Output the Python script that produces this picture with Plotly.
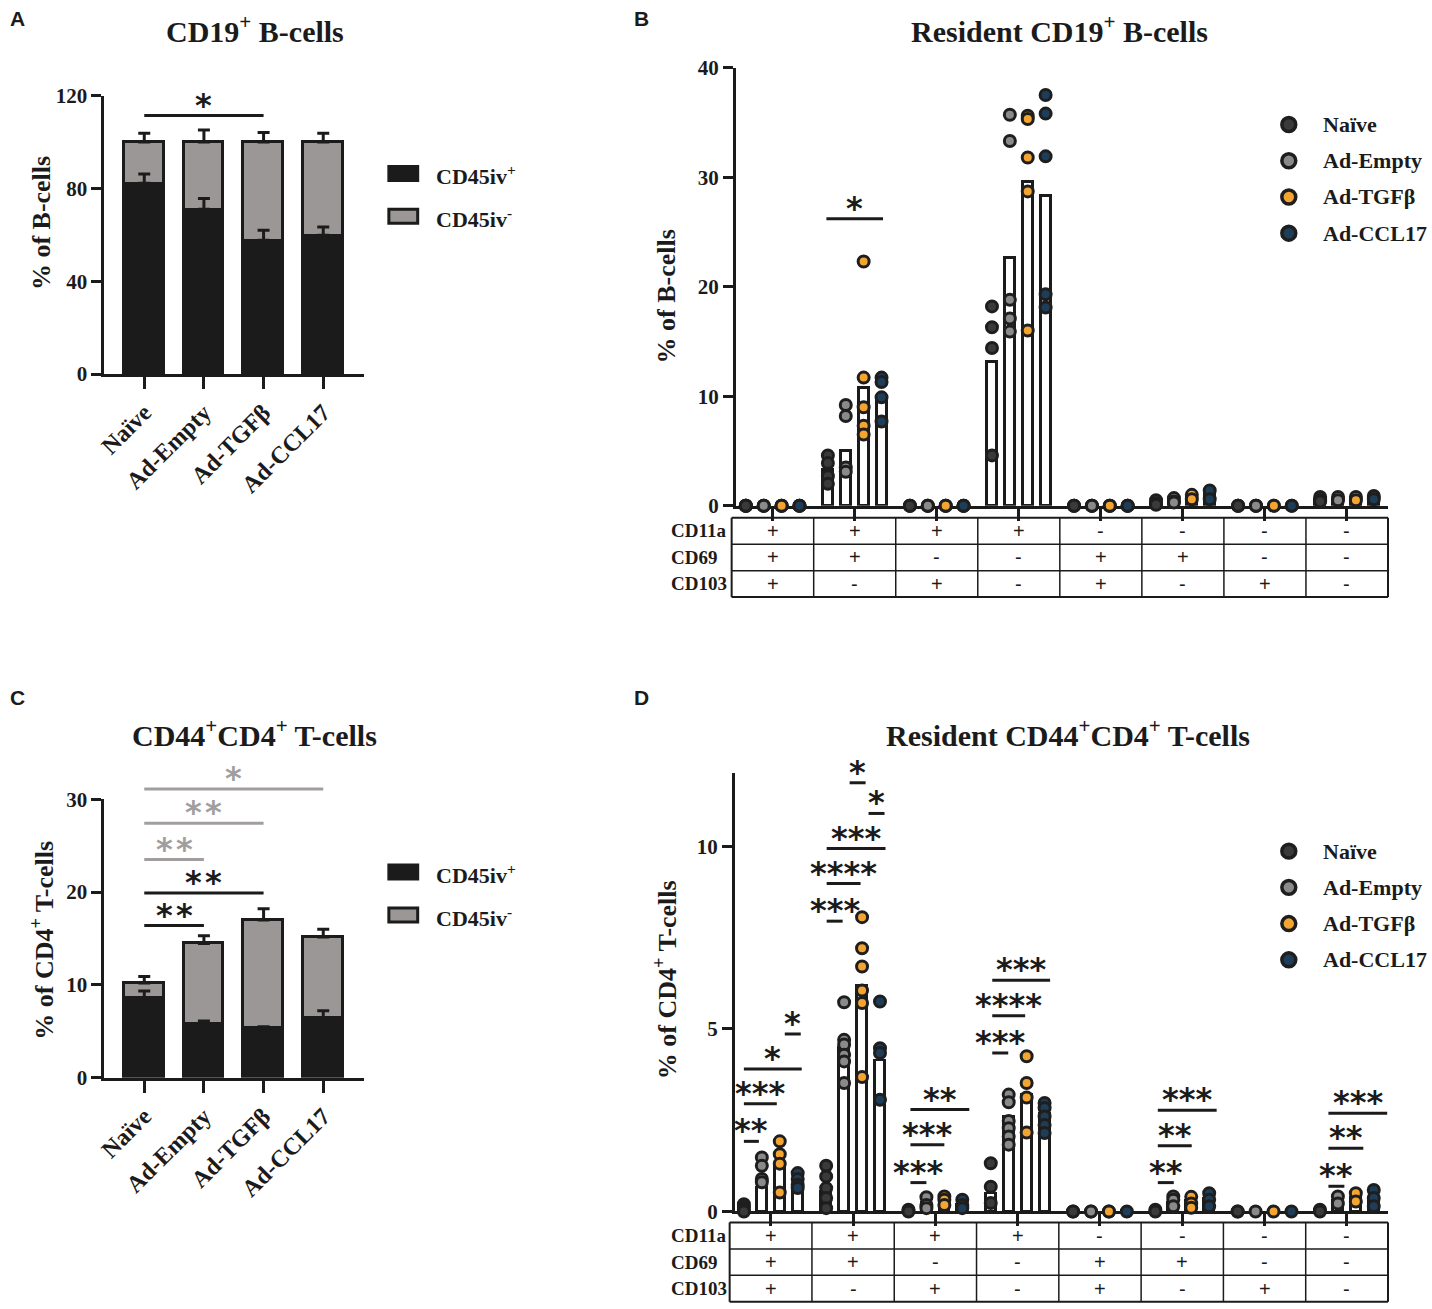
import plotly.graph_objects as go

W, H = 1432, 1309

groups = ["Naïve", "Ad-Empty", "Ad-TGFβ", "Ad-CCL17"]
fractions = ["CD45iv<sup>+</sup>", "CD45iv<sup>-</sup>"]

# panel A - CD19+ B-cells (mean, upper SEM)
a_pos = [82.2, 71.0, 57.6, 59.8]
a_pos_err = [4.0, 4.6, 4.4, 3.6]
a_neg = [17.8, 29.0, 42.4, 40.2]
a_tot_err = [3.8, 5.2, 4.1, 3.8]

# panel C - CD44+CD4+ T-cells
c_pos = [8.6, 5.8, 5.3, 6.45]
c_pos_err = [0.75, 0.3, 0.2, 0.75]
c_neg = [1.6, 8.65, 11.7, 8.7]
c_tot_err = [0.7, 0.85, 1.2, 0.85]

# phenotype table (8 subsets)
cd11a = ["+", "+", "+", "+", "-", "-", "-", "-"]
cd69 = ["+", "+", "-", "-", "+", "+", "-", "-"]
cd103 = ["+", "-", "+", "-", "+", "-", "+", "-"]
markers = ["CD11a", "CD69", "CD103"]

# panel B - resident B-cells, bar = mean, dots = mice
b_naive = [0, 3.3, 0, 13.2, 0, 0.3, 0, 0.6]
b_empty = [0, 5.0, 0, 22.7, 0, 0.5, 0, 0.6]
b_tgfb = [0, 10.8, 0, 29.6, 0, 0.8, 0, 0.6]
b_ccl17 = [0, 9.6, 0, 28.3, 0, 1.0, 0, 0.7]

b_naive_pts = [[0, 0, 0, 0], [4.6, 3.9, 2.7, 2.0], [0, 0, 0], [18.2, 16.3, 14.4, 4.6],
               [0, 0, 0], [0.5, 0.2, 0.1], [0, 0, 0], [0.8, 0.5, 0.4]]
b_empty_pts = [[0, 0, 0], [9.2, 8.2, 3.5, 3.1], [0, 0, 0], [35.7, 33.3, 18.8, 17.1, 15.9],
               [0, 0, 0], [0.7, 0.4, 0.3], [0, 0, 0], [0.8, 0.5]]
b_tgfb_pts = [[0, 0, 0], [22.3, 11.7, 9.0, 7.3, 6.5], [0, 0, 0], [35.6, 35.3, 31.8, 28.7, 16.0],
              [0, 0, 0], [1.0, 0.6], [0, 0], [0.8, 0.5]]
b_ccl17_pts = [[0, 0, 0], [11.7, 11.3, 9.9, 7.7], [0, 0, 0], [37.5, 35.8, 31.9, 19.3, 18.1],
               [0, 0, 0], [1.4, 0.6], [0, 0], [0.9, 0.6]]

# panel D - resident CD4 T-cells
d_naive = [0.1, 0.55, 0.05, 0.5, 0.03, 0.05, 0.03, 0.05]
d_empty = [0.65, 4.5, 0.25, 2.6, 0.03, 0.25, 0.03, 0.3]
d_tgfb = [1.3, 6.2, 0.3, 3.2, 0.03, 0.3, 0.03, 0.4]
d_ccl17 = [0.7, 4.15, 0.2, 2.7, 0.03, 0.35, 0.03, 0.4]

d_naive_pts = [[0.2, 0.12, 0.05, 0.0], [1.25, 0.96, 0.64, 0.37, 0.09], [0.05, 0.0], [1.32, 0.68, 0.23],
               [0.0, 0.0], [0.05, 0.0], [0.0, 0.0], [0.05, 0.0]]
d_empty_pts = [[1.48, 1.25, 0.89, 0.8], [5.73, 4.7, 4.57, 4.29, 4.11, 3.52], [0.39, 0.18, 0.09],
               [3.2, 2.99, 2.48, 2.28, 2.05, 1.83], [0.0, 0.0], [0.41, 0.32, 0.14], [0.0], [0.41, 0.22]]
d_tgfb_pts = [[1.92, 1.57, 1.31, 0.52], [8.06, 7.21, 6.71, 6.05, 5.71, 3.68], [0.41, 0.32, 0.18],
              [4.25, 3.52, 3.12, 2.16], [0.0, 0.0], [0.4, 0.22, 0.1], [0.0], [0.5, 0.27]]
d_ccl17_pts = [[1.05, 0.89, 0.73, 0.64], [5.75, 4.47, 4.34, 3.06], [0.32, 0.18, 0.09],
               [2.97, 2.83, 2.6, 2.37, 2.15], [0.0], [0.5, 0.32, 0.14], [0.0], [0.59, 0.37, 0.14]]

# significance bars (x0, x1, y, label)
sig_a = [(0, 2, 111.4, "*")]
sig_c_black = [(0, 1, 16.4, "**"), (0, 2, 19.9, "**")]
sig_c_grey = [(0, 1, 23.5, "**"), (0, 2, 27.4, "**"), (0, 3, 31.1, "*")]
sig_b = [(0.655, 1.345, 26.2, "*")]
sig_d = [(-0.327, -0.145, 1.92, "**"), (-0.327, 0.073, 2.95, "***"), (-0.327, 0.376, 3.9, "*"),
         (0.17, 0.364, 4.86, "*"),
         (0.679, 0.873, 7.95, "***"), (0.679, 1.091, 8.98, "****"), (0.679, 1.394, 9.94, "***"),
         (0.958, 1.152, 11.74, "*"), (1.188, 1.382, 10.9, "*"),
         (1.697, 1.891, 0.79, "***"), (1.697, 2.109, 1.83, "***"), (1.697, 2.412, 2.79, "**"),
         (2.691, 2.885, 4.34, "***"), (2.691, 3.091, 5.36, "****"), (2.691, 3.394, 6.33, "***"),
         (4.703, 4.897, 0.79, "**"), (4.703, 5.115, 1.8, "**"), (4.703, 5.418, 2.77, "***"),
         (6.776, 6.97, 0.69, "**"), (6.776, 7.2, 1.73, "**"), (6.776, 7.49, 2.69, "***")]

BLACK = "#1b1b1b"
GREY_BAR = "#9c9797"
GREY_SIG = "#a29e9e"
dot_colors = ["#3a3a3a", "#8a8a8a", "#f4a531", "#1e3d59"]
offsets = [-0.327, -0.109, 0.109, 0.327]
SERIF = "Liberation Serif"
STAR = "DejaVu Sans"

# pixel boxes (as seen in the picture) of the four plot areas
P = {
    "A": dict(x="x", y="y", px=(97, 358), py=(373, 94), xr=(-0.667, 3.683), yr=(0, 120)),
    "B": dict(x="x2", y="y2", px=(732, 1388), py=(505, 66), xr=(-0.448, 7.503), yr=(0, 40)),
    "C": dict(x="x3", y="y3", px=(97, 358), py=(1078, 799), xr=(-0.667, 3.683), yr=(0, 30)),
    "D": dict(x="x4", y="y4", px=(731, 1388), py=(1212, 773), xr=(-0.436, 7.503), yr=(0, 12)),
}


def pp(x, y):
    # picture pixels -> paper fraction (the photo squeezes the page a little vertically)
    yy = (y - 10.3) / 0.9835
    return x / W, 1 - yy / H


def dpx(p, x, y):
    g = P[p]
    X = g["px"][0] + (x - g["xr"][0]) / (g["xr"][1] - g["xr"][0]) * (g["px"][1] - g["px"][0])
    Y = g["py"][0] + (y - g["yr"][0]) / (g["yr"][1] - g["yr"][0]) * (g["py"][1] - g["py"][0])
    return X, Y


fig = go.Figure()
shapes = []
annos = []


def text(x, y, s, size, bold=True, anchor="center", color=BLACK, angle=0, family=SERIF, yshift=0):
    X, Y = pp(x, y)
    annos.append(dict(x=X, y=Y, xref="paper", yref="paper", text=s, showarrow=False,
                      xanchor=anchor, yanchor="middle", textangle=angle, yshift=yshift,
                      font=dict(family=family, size=size, color=color,
                                weight="bold" if bold else "normal")))


def sig(p, x0, x1, y, label, color=BLACK, gap=""):
    X0, Y = dpx(p, x0, y)
    X1, _ = dpx(p, x1, y)
    a, b = pp(X0, Y)
    c, _ = pp(X1, Y)
    shapes.append(dict(type="line", xref="paper", yref="paper", x0=a, x1=c, y0=b, y1=b,
                       line=dict(color=color, width=3)))
    text((X0 + X1) / 2, Y - 18, gap.join(label), 32, bold=True, color=color, family=STAR, yshift=-7)


# stacked bar panels A and C
for p, pos, pos_err, neg, tot_err in [("A", a_pos, a_pos_err, a_neg, a_tot_err),
                                       ("C", c_pos, c_pos_err, c_neg, c_tot_err)]:
    xs = list(range(len(groups)))
    for vals, col, name in [(pos, BLACK, fractions[0]), (neg, GREY_BAR, fractions[1])]:
        fig.add_trace(go.Bar(x=xs, y=vals, width=0.667, name=name, showlegend=False,
                             marker=dict(color=col, line=dict(color=BLACK, width=3)),
                             xaxis=P[p]["x"], yaxis=P[p]["y"]))
    tops = [a + b for a, b in zip(pos, neg)]
    for yv, ev in [(pos, pos_err), (tops, tot_err)]:
        fig.add_trace(go.Scatter(x=xs, y=yv, mode="markers", showlegend=False,
                                 marker=dict(size=1, color="rgba(0,0,0,0)"),
                                 error_y=dict(type="data", array=ev, arrayminus=[0] * 4, symmetric=False,
                                              color=BLACK, thickness=3, width=6),
                                 cliponaxis=False, xaxis=P[p]["x"], yaxis=P[p]["y"]))

# bar + dot panels B and D
for p, means, pts in [("B", [b_naive, b_empty, b_tgfb, b_ccl17],
                       [b_naive_pts, b_empty_pts, b_tgfb_pts, b_ccl17_pts]),
                      ("D", [d_naive, d_empty, d_tgfb, d_ccl17],
                       [d_naive_pts, d_empty_pts, d_tgfb_pts, d_ccl17_pts])]:
    for i, g in enumerate(groups):
        xs = [k + offsets[i] for k in range(8)]
        fig.add_trace(go.Bar(x=xs, y=means[i], width=0.12, showlegend=False, name=g,
                             marker=dict(color="white", line=dict(color=BLACK, width=2.5)),
                             xaxis=P[p]["x"], yaxis=P[p]["y"]))
    for i, g in enumerate(groups):
        px_, py_ = [], []
        for k, vals in enumerate(pts[i]):
            for v in vals:
                px_.append(k + offsets[i])
                py_.append(v)
        fig.add_trace(go.Scatter(x=px_, y=py_, mode="markers", name=g, showlegend=False,
                                 marker=dict(size=11, color=dot_colors[i],
                                             line=dict(color="#1e1e1e", width=3)),
                                 cliponaxis=False, xaxis=P[p]["x"], yaxis=P[p]["y"]))

# axes
ax_common = dict(showline=True, linewidth=3, linecolor=BLACK, ticks="outside", ticklen=10,
                 tickwidth=3, tickcolor=BLACK, showgrid=False, zeroline=False, fixedrange=True,
                 tickfont=dict(family=SERIF, size=21, color=BLACK, weight="bold"))
ytick = {"A": [0, 40, 80, 120], "B": [0, 10, 20, 30, 40], "C": [0, 10, 20, 30], "D": [0, 5, 10]}
for n, p in enumerate(["A", "B", "C", "D"]):
    g = P[p]
    sx = "" if n == 0 else str(n + 1)
    xa = dict(ax_common, domain=[g["px"][0] / W, g["px"][1] / W], range=list(g["xr"]),
              anchor="y" + sx)
    ya = dict(ax_common, domain=[pp(0, g["py"][0])[1], pp(0, g["py"][1])[1]], range=list(g["yr"]),
              anchor="x" + sx, tickvals=ytick[p])
    if p in ("A", "C"):
        xa.update(tickvals=list(range(4)), ticktext=groups, tickangle=-45, ticklen=12,
                  tickfont=dict(family=SERIF, size=24, color=BLACK, weight="bold"))
    else:
        xa.update(tickvals=list(range(8)), showticklabels=False, ticklen=12, layer="below traces")
        ya.update(layer="below traces")
    fig.update_layout(**{"xaxis" + sx: xa, "yaxis" + sx: ya})

# significance
for s in sig_a:
    sig("A", *s)
for s in sig_c_black:
    sig("C", *s, gap="\u200a")
for s in sig_c_grey:
    sig("C", *s, color=GREY_SIG, gap="\u200a")
for s in sig_b:
    sig("B", *s)
for s in sig_d:
    sig("D", *s)

# titles, axis titles, panel letters
text(248, 27, "CD19<sup>+</sup> B-cells", 30)
text(1057, 27, "Resident CD19<sup>+</sup> B-cells", 30)
text(248, 733, "CD44<sup>+</sup>CD4<sup>+</sup> T-cells", 30)
text(1066, 733, "Resident CD44<sup>+</sup>CD4<sup>+</sup> T-cells", 30)
text(33, 222, "% of B-cells", 26, angle=-90)
text(662, 295, "% of B-cells", 26, angle=-90)
text(35, 940, "% of CD4<sup>+</sup> T-cells", 26, angle=-90)
text(662, 980, "% of CD4<sup>+</sup> T-cells", 26, angle=-90)
for L, x, y in [("A", 10, 17), ("B", 637, 17), ("C", 10, 697), ("D", 637, 697)]:
    text(x, y, L, 21, family="Liberation Sans")

# legends of A and C
for yc in (172, 872):
    for j, (col, lab) in enumerate([(BLACK, fractions[0]), (GREY_BAR, fractions[1])]):
        y0 = yc + j * 43
        a, b = pp(383, y0 - 7)
        c, d = pp(412, y0 + 7)
        shapes.append(dict(type="rect", xref="paper", yref="paper", x0=a, x1=c, y0=b, y1=d,
                           fillcolor=col, line=dict(color=BLACK, width=3)))
        text(428, y0 + 2, lab, 22, anchor="left")

# legends of B and D
for yc in (123, 851):
    for j, g in enumerate(groups):
        y0 = yc + j * 36.3
        a, b = pp(1281, y0 - 7)
        c, d = pp(1295, y0 + 7)
        shapes.append(dict(type="circle", xref="paper", yref="paper", x0=a, x1=c, y0=b, y1=d,
                           fillcolor=dot_colors[j], line=dict(color="#1e1e1e", width=3.5)))
        text(1320, y0, g, 22, anchor="left")

# phenotype tables
for p, top in [("B", 517), ("D", 1223)]:
    rows = [cd11a, cd69, cd103]
    rh = 26.5
    xl, _ = dpx(p, -0.5, 0)
    xr, _ = dpx(p, 7.5, 0)
    for r in range(4):
        y = top + r * rh
        a, b = pp(xl, y)
        c, _ = pp(xr, y)
        shapes.append(dict(type="line", xref="paper", yref="paper", x0=a, x1=c, y0=b, y1=b,
                           line=dict(color=BLACK, width=2 if r in (0, 3) else 1.5)))
    for k in range(9):
        xk, _ = dpx(p, k - 0.5, 0)
        a, b = pp(xk, top)
        _, d = pp(xk, top + 3 * rh)
        shapes.append(dict(type="line", xref="paper", yref="paper", x0=a, x1=a, y0=b, y1=d,
                           line=dict(color=BLACK, width=2 if k in (0, 8) else 1.5)))
    for r, row in enumerate(rows):
        yc = top + (r + 0.5) * rh
        text(665, yc, markers[r], 19, anchor="left")
        for k, v in enumerate(row):
            xk, _ = dpx(p, k, 0)
            text(xk, yc, v, 20, bold=False, family="Liberation Sans")

fig.update_layout(width=W, height=H, margin=dict(l=0, r=0, t=0, b=0),
                  paper_bgcolor="white", plot_bgcolor="white", barmode="stack",
                  bargap=0, shapes=shapes, annotations=annos, showlegend=False,
                  font=dict(family=SERIF, color=BLACK))

# pin the figure to the window's top-left corner
pin = ("var d=document.getElementById('{plot_id}');d.style.position='fixed';"
       "d.style.top='0';d.style.left='0';document.body.style.margin='0';")
fig.write_html("out.html", config={"displayModeBar": False}, post_script=pin)
